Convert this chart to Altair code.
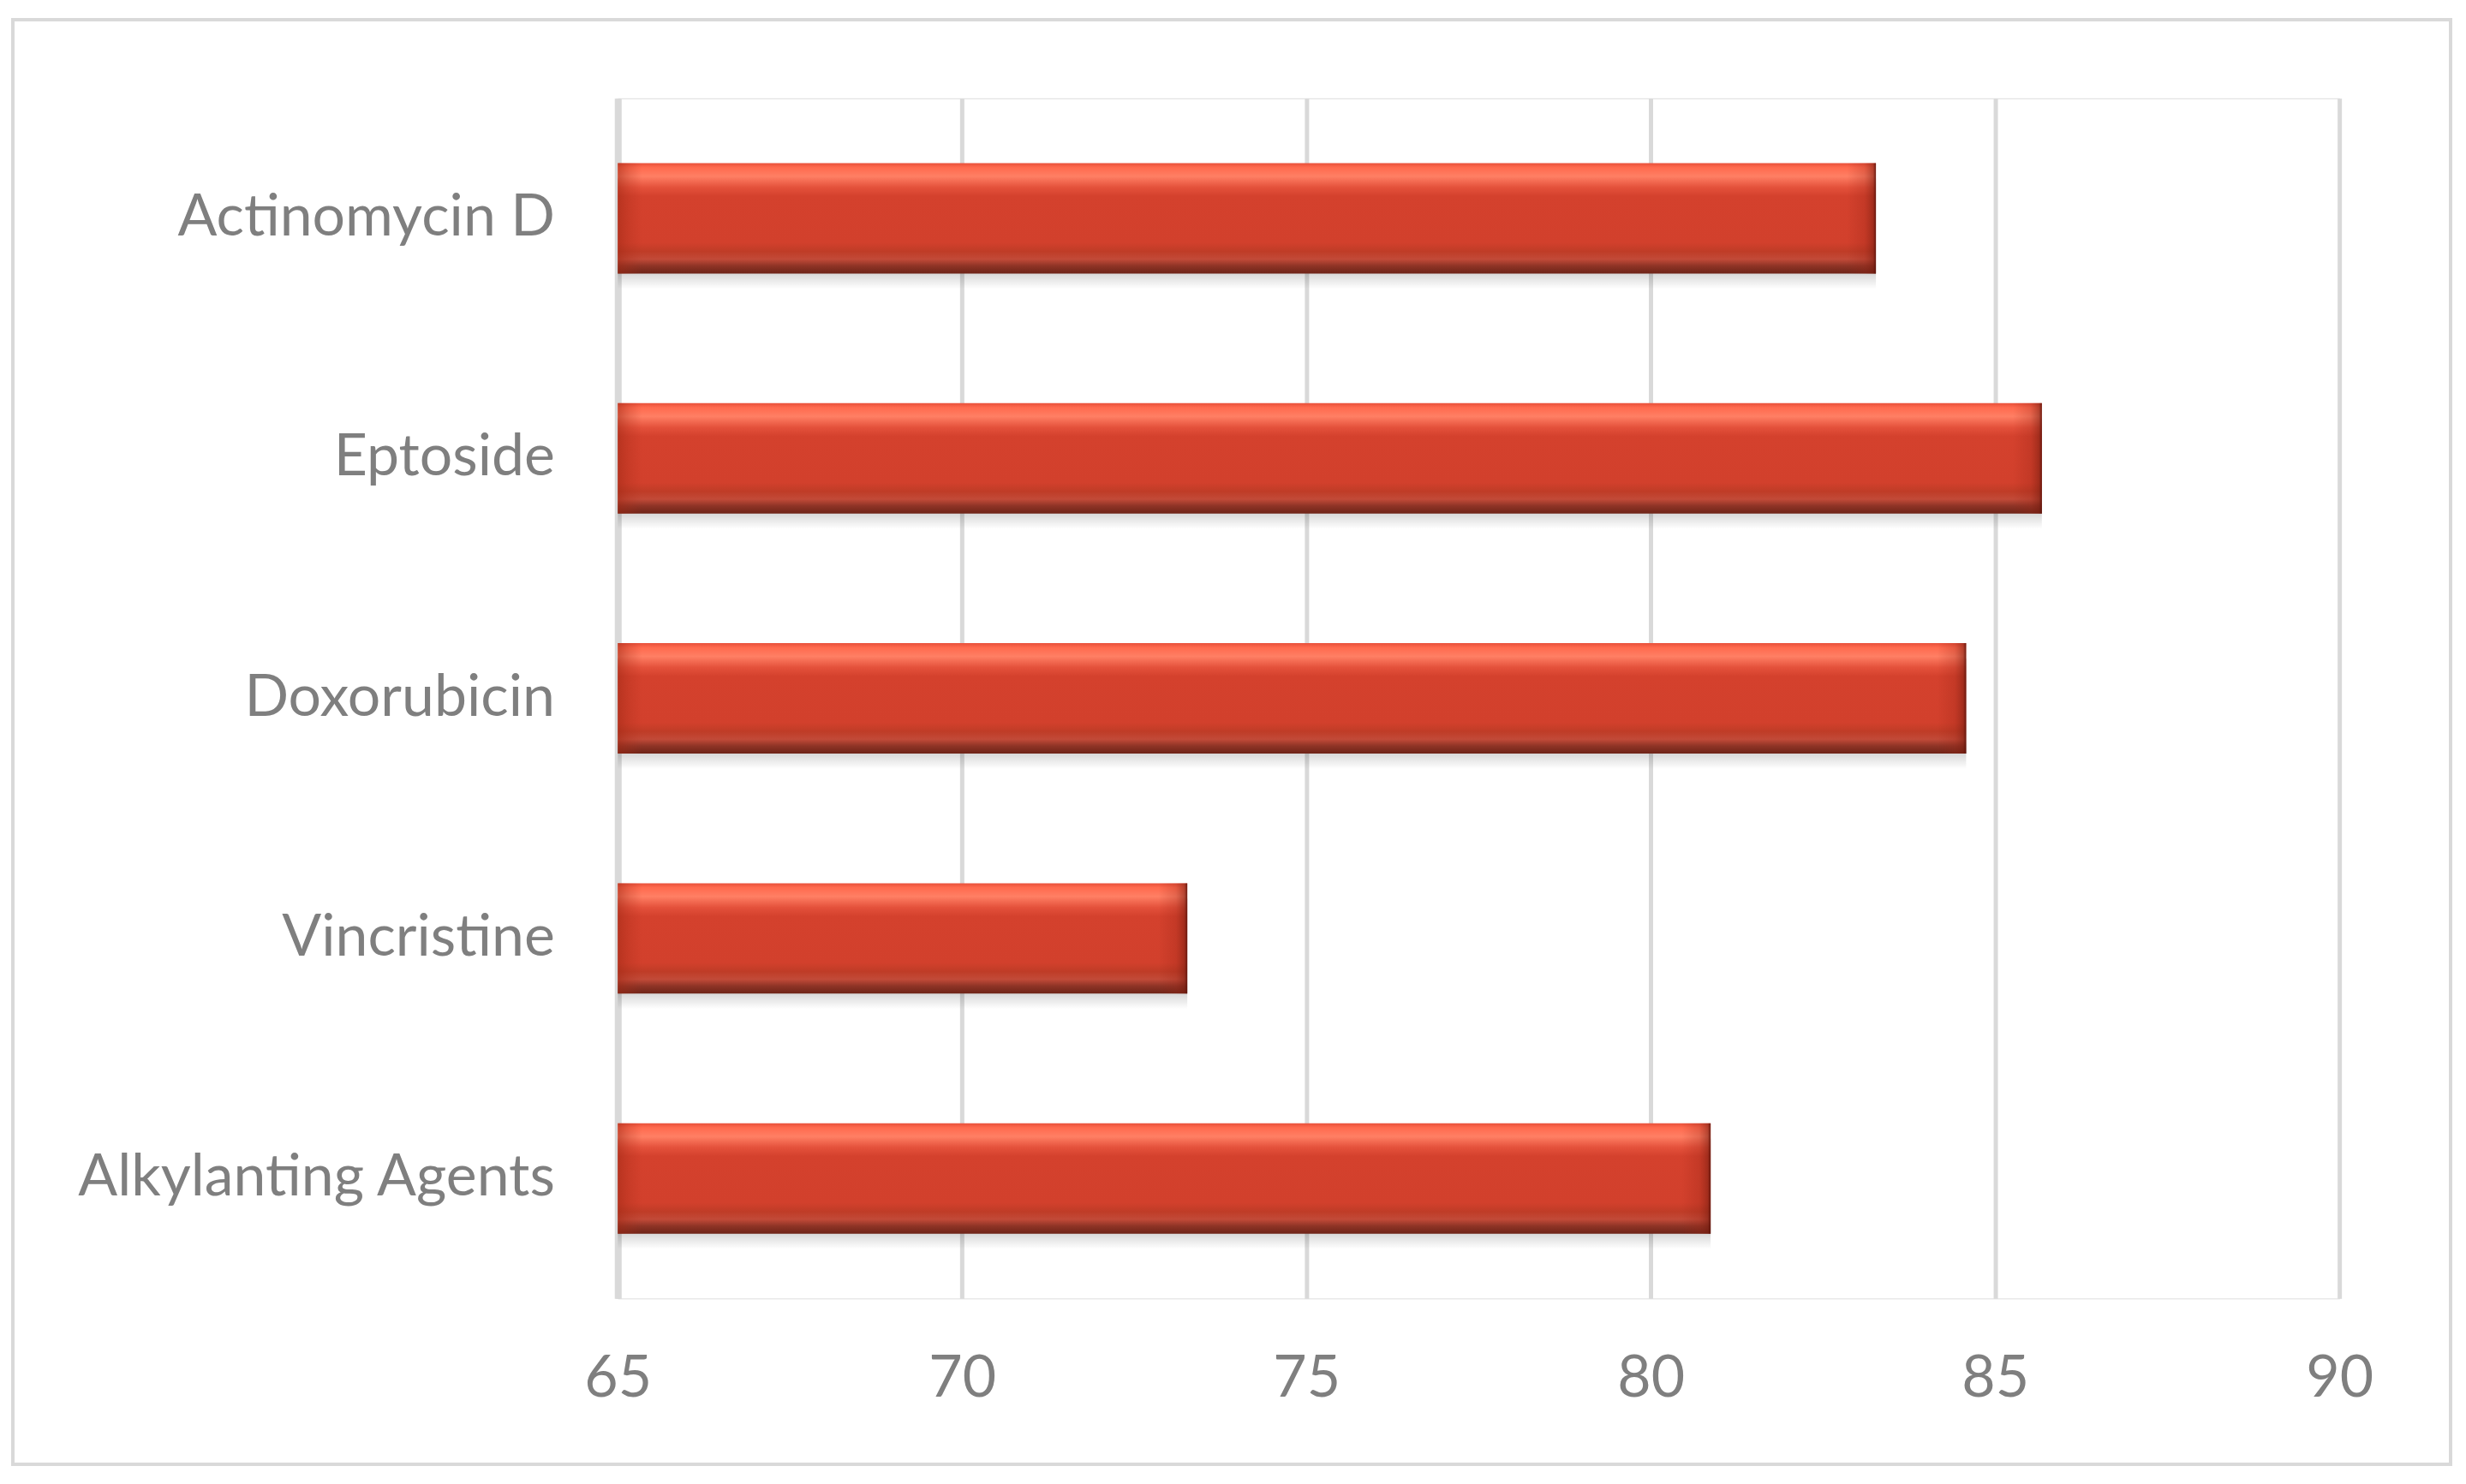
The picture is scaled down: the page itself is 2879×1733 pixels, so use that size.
import altair as alt
import pandas as pd

categories = ["Actinomycin D", "Eptoside", "Doxorubicin", "Vincristine", "Alkylanting Agents"]
values = [83.27, 85.68, 84.58, 73.27, 80.87]
x_ticks = [65, 70, 75, 80, 85, 90]

df = pd.DataFrame({"drug": categories, "value": values})
frame_df = pd.DataFrame({"k": [0]})

FONT = "Lato"
GRAY = "#7f7f7f"
GRID = "#d9d9d9"

y_enc = alt.Y(
    "drug:N",
    sort=categories,
    scale=alt.Scale(paddingInner=0.54, paddingOuter=0.27),
    axis=alt.Axis(
        title=None, ticks=False, labelPadding=74, labelFontSize=68,
        labelFont=FONT, labelColor=GRAY, domainColor=GRID, domainWidth=8,
        grid=False, labelLimit=0,
    ),
)
x_scale = alt.Scale(domain=[65, 90], nice=False, zero=False)
x_enc = alt.X(
    "base:Q",
    scale=x_scale,
    axis=alt.Axis(
        title=None, values=x_ticks, ticks=False, domain=False, grid=True,
        gridColor=GRID, gridWidth=5, labelPadding=60, labelFontSize=68,
        labelFont=FONT, labelColor=GRAY, format="d", labelFlush=False,
    ),
)

base = alt.Chart(df).transform_calculate(
    base="65", bevel="datum.value - 0.42", lbevel="65.35"
)

shadow = base.mark_bar(
    yOffset=18,
    fill=alt.Gradient(
        gradient="linear", x1=0, y1=0, x2=0, y2=1,
        stops=[
            alt.GradientStop(offset=0, color="rgba(0,0,0,0.3)"),
            alt.GradientStop(offset=0.8, color="rgba(0,0,0,0.22)"),
            alt.GradientStop(offset=1, color="rgba(0,0,0,0)"),
        ],
    ),
).encode(y=y_enc, x=x_enc, x2="value:Q")

bars = base.mark_bar(
    fill=alt.Gradient(
        gradient="linear", x1=0, y1=0, x2=0, y2=1,
        stops=[
            alt.GradientStop(offset=0.0, color="#e8503a"),
            alt.GradientStop(offset=0.04, color="#ff6a4e"),
            alt.GradientStop(offset=0.12, color="#ff7f64"),
            alt.GradientStop(offset=0.22, color="#e4513b"),
            alt.GradientStop(offset=0.3, color="#d4412d"),
            alt.GradientStop(offset=0.72, color="#d2402c"),
            alt.GradientStop(offset=0.8, color="#bf3c27"),
            alt.GradientStop(offset=0.87, color="#c24a38"),
            alt.GradientStop(offset=0.93, color="#8f3426"),
            alt.GradientStop(offset=1.0, color="#6e2418"),
        ],
    ),
).encode(y=y_enc, x=x_enc, x2="value:Q")

end_bevel = base.mark_bar(
    fill=alt.Gradient(
        gradient="linear", x1=0, y1=0, x2=1, y2=0,
        stops=[
            alt.GradientStop(offset=0.0, color="rgba(150,35,20,0)"),
            alt.GradientStop(offset=0.6, color="rgba(150,35,20,0.25)"),
            alt.GradientStop(offset=0.9, color="rgba(120,28,15,0.55)"),
            alt.GradientStop(offset=1.0, color="rgba(90,18,10,0.9)"),
        ],
    ),
).encode(y=y_enc, x=alt.X("bevel:Q", scale=x_scale), x2="value:Q")

start_bevel = base.mark_bar(
    fill=alt.Gradient(
        gradient="linear", x1=0, y1=0, x2=1, y2=0,
        stops=[
            alt.GradientStop(offset=0.0, color="rgba(160,40,20,0.55)"),
            alt.GradientStop(offset=0.5, color="rgba(170,45,25,0.25)"),
            alt.GradientStop(offset=1.0, color="rgba(170,45,25,0)"),
        ],
    ),
).encode(y=y_enc, x=x_enc, x2="lbevel:Q")

frame = alt.Chart(frame_df).mark_rect(
    fillOpacity=0, stroke=GRID, strokeWidth=4
).encode(
    x=alt.value(-707), x2=alt.value(2142), y=alt.value(-92), y2=alt.value(1597)
)

chart = alt.layer(shadow, bars, end_bevel, start_bevel, frame).properties(
    width=2012,
    height=1403,
    autosize=alt.AutoSizeParams(type="none"),
    padding={"left": 714, "top": 106, "right": 140, "bottom": 210},
).configure_view(stroke=None).configure(background="white")

chart.save("out.html", embed_options={"renderer": "svg", "actions": False})
